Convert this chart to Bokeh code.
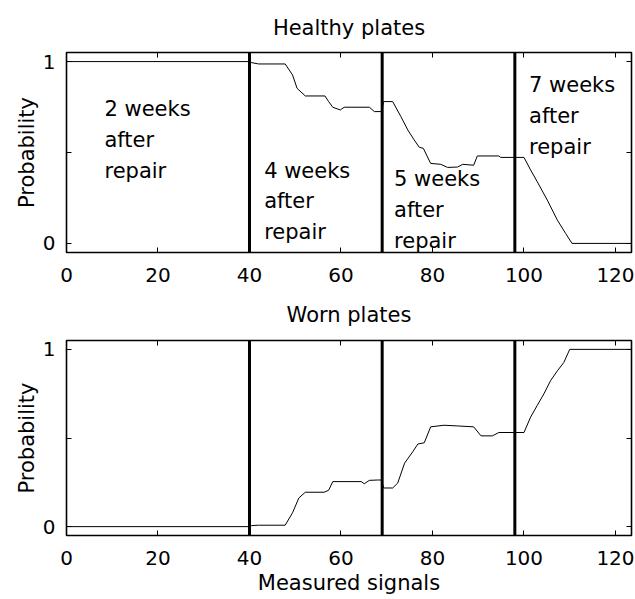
from bokeh.plotting import figure
from bokeh.models import (Range1d, FixedTicker, LinearAxis, Span, ColumnDataSource,
                          CustomLabelingPolicy)
from bokeh.layouts import column
from bokeh.core.properties import value
from bokeh.embed import file_html
from bokeh.resources import INLINE

# ---- data ----
healthy_x = [0, 40, 40.5, 42, 47.8, 49.4, 50.4, 52.2, 56.5, 57.3, 58.2, 59.85, 60.7, 66.2, 67.3,
             68.9, 69.3, 71.3, 73.1, 74.6, 76.0, 77.1, 78.0, 79.6, 81.8, 83.3, 85.5, 86.6, 89.0,
             89.8, 94.5, 94.9, 100.0, 101.45, 102.9, 105.1, 107.3, 109.1, 110.5, 123.5]
healthy_y = [1.0, 1.0, 0.994, 0.987, 0.987, 0.927, 0.853, 0.811, 0.811, 0.78, 0.749, 0.734, 0.749,
             0.749, 0.725, 0.725, 0.78, 0.78, 0.697, 0.624, 0.569, 0.529, 0.523, 0.44, 0.435, 0.418,
             0.42, 0.435, 0.43, 0.481, 0.481, 0.473, 0.473, 0.404, 0.339, 0.238, 0.128, 0.055, 0.0, 0.0]

worn_x = [0, 40, 40.5, 42, 47.8, 49.4, 50.8, 52.2, 56.3, 57.3, 58.2, 64.4, 65.1, 66.2, 68.0, 68.9,
          69.3, 71.3, 72.4, 73.9, 75.7, 76.8, 78.2, 79.6, 82.5, 85.5, 89.0, 90.6, 93.1, 94.5, 100.0,
          101.45, 102.9, 104.35, 105.8, 107.3, 108.7, 110.0, 123.5]
worn_y = [0.0, 0.0, 0.006, 0.008, 0.008, 0.078, 0.162, 0.194, 0.194, 0.205, 0.254, 0.254, 0.242,
          0.261, 0.263, 0.263, 0.218, 0.218, 0.246, 0.358, 0.423, 0.466, 0.473, 0.563, 0.572, 0.568,
          0.563, 0.512, 0.512, 0.531, 0.531, 0.618, 0.684, 0.749, 0.823, 0.879, 0.926, 1.0, 1.0]

boundaries = [40, 69, 98]

label_text = ["2 weeks\nafter\nrepair", "4 weeks\nafter\nrepair",
              "5 weeks\nafter\nrepair", "7 weeks\nafter\nrepair"]
label_x = [8.3, 43.2, 71.6, 101.1]
label_y = [0.807, 0.467, 0.422, 0.937]

x_ticks = [0, 20, 40, 60, 80, 100, 120]
y_ticks = [0, 0.5, 1]
y_tick_labels = {0: "0", 0.5: "", 1: "1"}

FONT = "DejaVu Sans"


def style_axis(ax, labels=True, standoff=11):
    ax.axis_line_color = None
    ax.major_tick_in = 5
    ax.major_tick_out = 0
    ax.major_tick_line_color = "black"
    ax.major_tick_line_width = 1
    ax.minor_tick_line_color = None
    ax.major_label_text_font = FONT
    ax.major_label_text_color = "black"
    if labels:
        ax.major_label_text_font_size = "20px"
        ax.major_label_standoff = standoff
    else:
        ax.major_label_text_font_size = "0px"
        ax.major_label_standoff = 0
        ax.major_label_policy = CustomLabelingPolicy(code="return []")


def make_fig(title, height, top, bottom, title_standoff, xlabel=None):
    p = figure(width=635, height=height, output_backend="svg", toolbar_location=None,
               x_range=Range1d(0, 123.5), y_range=Range1d(-0.05, 1.05),
               min_border_left=66, min_border_right=4, min_border_top=top,
               min_border_bottom=bottom, background_fill_color="white",
               border_fill_color="white")
    p.grid.visible = False
    p.outline_line_color = "black"
    p.outline_line_width = 1.6
    p.title.text = title
    p.title.align = "center"
    p.title.vertical_align = "top"
    p.title.text_font = FONT
    p.title.text_font_size = "21px"
    p.title.text_font_style = "normal"
    p.title.text_color = "black"
    p.title.standoff = title_standoff

    p.xaxis.ticker = FixedTicker(ticks=x_ticks)
    p.yaxis.ticker = FixedTicker(ticks=y_ticks)
    p.yaxis.major_label_overrides = y_tick_labels
    style_axis(p.xaxis[0], standoff=15)
    style_axis(p.yaxis[0], standoff=11)
    p.yaxis.axis_label = "Probability"
    p.yaxis.axis_label_text_font = FONT
    p.yaxis.axis_label_text_font_size = "21px"
    p.yaxis.axis_label_text_font_style = "normal"
    p.yaxis.axis_label_text_color = "black"
    p.yaxis.axis_label_standoff = 1
    if xlabel:
        p.xaxis.axis_label = xlabel
        p.xaxis.axis_label_text_font = FONT
        p.xaxis.axis_label_text_font_size = "21px"
        p.xaxis.axis_label_text_font_style = "normal"
        p.xaxis.axis_label_text_color = "black"
        p.xaxis.axis_label_standoff = 3

    top_ax = LinearAxis(ticker=FixedTicker(ticks=x_ticks))
    style_axis(top_ax, labels=False)
    p.add_layout(top_ax, "above")
    right_ax = LinearAxis(ticker=FixedTicker(ticks=y_ticks))
    style_axis(right_ax, labels=False)
    p.add_layout(right_ax, "right")

    for b in boundaries:
        p.add_layout(Span(location=b, dimension="height", line_color="black", line_width=3))
    return p


p1 = make_fig("Healthy plates", 290, 52, 38, 22)
p1.line(healthy_x, healthy_y, line_color="black", line_width=1)
src = ColumnDataSource(dict(x=label_x, y=label_y, t=label_text))
p1.text(x="x", y="y", text="t", source=src, text_font=value(FONT), text_font_size="21px",
        text_baseline="top", text_align="left", text_color="black", text_line_height=1.29)

p2 = make_fig("Worn plates", 309, 49, 64, 24, xlabel="Measured signals")
p2.line(worn_x, worn_y, line_color="black", line_width=1)

layout = column(p1, p2, spacing=0)
open("out.html", "w").write(file_html(layout, INLINE))
